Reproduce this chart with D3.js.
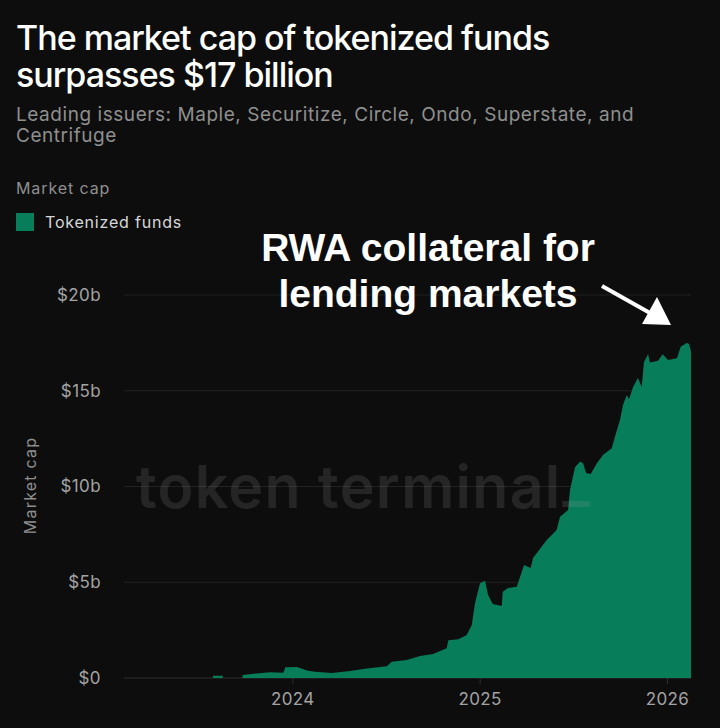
<!DOCTYPE html>
<html>
<head>
<meta charset="utf-8">
<script src="https://cdn.jsdelivr.net/npm/d3@7.9.0/dist/d3.min.js"></script>
<style>
html, body { margin: 0; padding: 0; background: #0d0d0e; }
svg { display: block; }
</style>
</head>
<body>
<div id="chart"></div>
<script>
const titleLines = ['The market cap of tokenized funds', 'surpasses $17 billion'];
const subtitleLines = ['Leading issuers: Maple, Securitize, Circle, Ondo, Superstate, and', 'Centrifuge'];
const calloutLines = ['RWA collateral for', 'lending markets'];
const yTicks = [0, 5, 10, 15, 20];
const xTicks = [2024, 2025, 2026];

// decimal year, market cap in $b
const years = [2023.102, 2023.576, 2023.577, 2023.628, 2023.629, 2023.734, 2023.735, 2023.81, 2023.881, 2023.952, 2023.963, 2024.023, 2024.084, 2024.121, 2024.21, 2024.308, 2024.397, 2024.504, 2024.531, 2024.611, 2024.682, 2024.751, 2024.824, 2024.833, 2024.886, 2024.931, 2024.958, 2024.975, 2025.002, 2025.029, 2025.045, 2025.07, 2025.118, 2025.123, 2025.151, 2025.198, 2025.237, 2025.272, 2025.285, 2025.358, 2025.411, 2025.429, 2025.472, 2025.482, 2025.509, 2025.536, 2025.553, 2025.568, 2025.593, 2025.625, 2025.658, 2025.705, 2025.722, 2025.749, 2025.765, 2025.785, 2025.797, 2025.819, 2025.845, 2025.865, 2025.877, 2025.899, 2025.909, 2025.952, 2025.977, 2026.005, 2026.053, 2026.073, 2026.105, 2026.117, 2026.128];
const marketCap = [0, 0, 0.12, 0.12, 0, 0, 0.16, 0.24, 0.3, 0.28, 0.56, 0.57, 0.38, 0.33, 0.26, 0.37, 0.5, 0.61, 0.85, 0.94, 1.15, 1.25, 1.55, 1.97, 2.02, 2.25, 2.77, 3.9, 4.95, 5.08, 4.33, 3.86, 3.76, 4.5, 4.7, 4.77, 5.9, 5.74, 6.26, 7.2, 7.73, 8.42, 8.77, 9.8, 11.0, 11.3, 11.2, 10.7, 10.65, 11.2, 11.65, 12.0, 12.6, 13.47, 14.25, 14.78, 14.55, 15.2, 15.66, 15.2, 16.5, 16.9, 16.47, 16.57, 16.9, 16.6, 16.7, 17.3, 17.5, 17.45, 17.05];

const width = 720;
const height = 728;
const font = "'Inter', 'Liberation Sans', sans-serif";

const svg = d3.select('#chart')
    .append('svg')
    .attr('width', width)
    .attr('height', height)
    .attr('viewBox', `0 0 ${width} ${height}`)
    .style('font-family', font);

svg.append('rect').attr('width', width).attr('height', height).attr('fill', '#0d0d0e');

const xScale = d3.scaleLinear().domain([2024, 2026]).range([292.3, 667]);
const yScale = d3.scaleLinear().domain([0, 20]).range([678, 295]);
const plotLeft = 124;
const plotRight = 691;

// title block
svg.selectAll('.title')
    .data(titleLines)
    .enter()
    .append('text')
    .attr('class', 'title')
    .attr('x', 16)
    .attr('y', (d, i) => 50 + i * 37)
    .attr('fill', '#ffffff')
    .attr('font-size', 34)
    .attr('font-weight', 500)
    .attr('letter-spacing', -1.0)
    .text(d => d);

svg.selectAll('.subtitle')
    .data(subtitleLines)
    .enter()
    .append('text')
    .attr('class', 'subtitle')
    .attr('x', 16)
    .attr('y', (d, i) => 121 + i * 21)
    .attr('fill', '#8f8f8f')
    .attr('font-size', 19)
    .attr('letter-spacing', 0.55)
    .text(d => d);

svg.append('text').attr('x', 16).attr('y', 194).attr('fill', '#8f8f8f').attr('font-size', 16).attr('letter-spacing', 0.9).text('Market cap');
svg.append('rect').attr('x', 16).attr('y', 213).attr('width', 18).attr('height', 18).attr('fill', '#077d5a');
svg.append('text').attr('x', 45).attr('y', 228).attr('fill', '#d8d8d8').attr('font-size', 16).attr('letter-spacing', 0.8).text('Tokenized funds');

// gridlines
const gridlines = svg.append('g').attr('class', 'gridlines');
gridlines.selectAll('line')
    .data(yTicks)
    .enter()
    .append('line')
    .attr('x1', plotLeft)
    .attr('x2', plotRight)
    .attr('y1', d => yScale(d))
    .attr('y2', d => yScale(d))
    .attr('stroke', d => d === 0 ? '#2e2e2e' : '#222222');

// area
const points = years.map((y, i) => ({ year: y, value: marketCap[i] }));
const area = d3.area()
    .x(d => xScale(d.year))
    .y0(yScale(0))
    .y1(d => yScale(d.value));

svg.append('path').datum(points).attr('fill', '#077d5a').attr('d', area);

// watermark sits over the area
const watermark = svg.append('text')
    .attr('x', 136)
    .attr('y', 508)
    .attr('fill', '#aaaaaa')
    .attr('fill-opacity', 0.16)
    .attr('font-size', 59)
    .attr('font-weight', 600)
    .attr('letter-spacing', 1.3);
watermark.append('tspan').text('token terminal');
watermark.append('tspan').attr('dy', -7).text('_');

// y axis
const yAxis = svg.append('g')
    .attr('class', 'y-axis')
    .attr('transform', `translate(${plotLeft}, 0)`)
    .call(d3.axisLeft(yScale).tickValues(yTicks).tickSize(0).tickPadding(23).tickFormat(d => `$${d}${d === 0 ? '' : 'b'}`));
yAxis.select('.domain').remove();
yAxis.selectAll('text').attr('fill', '#a3a3a3').attr('font-size', 17).attr('letter-spacing', 0.4).attr('font-family', font);

// x axis
const xAxis = svg.append('g')
    .attr('class', 'x-axis')
    .attr('transform', 'translate(0, 678)')
    .call(d3.axisBottom(xScale).tickValues(xTicks).tickSize(6).tickPadding(9).tickFormat(d3.format('d')));
xAxis.select('.domain').remove();
xAxis.selectAll('line').attr('stroke', '#2e2e2e');
xAxis.selectAll('text').attr('fill', '#a3a3a3').attr('font-size', 17).attr('letter-spacing', 0.4).attr('font-family', font);

svg.append('text')
    .attr('transform', 'translate(36, 485.5) rotate(-90)')
    .attr('text-anchor', 'middle')
    .attr('fill', '#8f8f8f')
    .attr('font-size', 16)
    .attr('letter-spacing', 1.2)
    .text('Market cap');

// callout
svg.selectAll('.callout')
    .data(calloutLines)
    .enter()
    .append('text')
    .attr('class', 'callout')
    .attr('x', 428)
    .attr('y', (d, i) => 261 + i * 46)
    .attr('text-anchor', 'middle')
    .attr('fill', '#ffffff')
    .attr('font-size', 39)
    .attr('font-weight', 700)
    .attr('font-family', "'Liberation Sans', sans-serif")
    .text(d => d);

svg.append('line')
    .attr('x1', 602).attr('y1', 286)
    .attr('x2', 650).attr('y2', 313)
    .attr('stroke', '#ffffff')
    .attr('stroke-width', 4);
svg.append('path')
    .attr('d', 'M671,325 L642,324 L657,297 Z')
    .attr('fill', '#ffffff');
</script>
</body>
</html>
